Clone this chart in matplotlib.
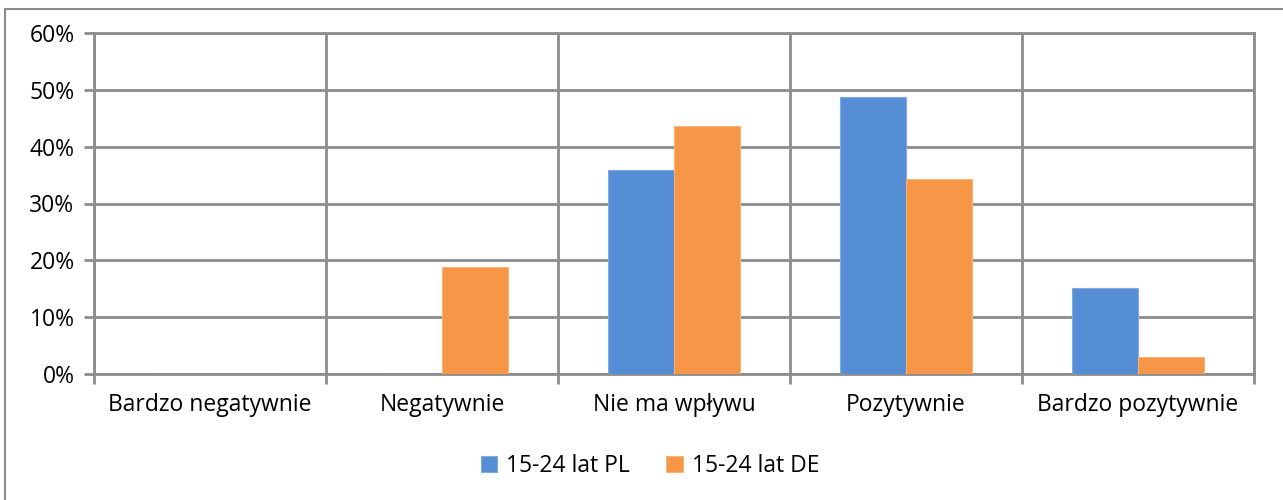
import matplotlib
matplotlib.use('Agg')
import matplotlib.pyplot as plt
from matplotlib.lines import Line2D
from matplotlib.ticker import FixedLocator, PercentFormatter
import numpy as np

categories = ['Bardzo negatywnie', 'Negatywnie', 'Nie ma wpływu', 'Pozytywnie', 'Bardzo pozytywnie']
pl = [0.0, 0.0, 35.9, 48.8, 15.1]
de = [0.0, 18.8, 43.7, 34.3, 3.0]
series = ['15-24 lat PL', '15-24 lat DE']

plt.rcParams['font.family'] = ['Open Sans', 'DejaVu Sans']
grid_c = '#8c8c8c'
fs = 16.5

fig = plt.figure(figsize=(12.83, 5.0), dpi=100)
ax = fig.add_axes([94/1283, 1-374/500, (1254-94)/1283, (374-33)/500])

x = np.arange(len(categories))
w = 0.285
ax.bar(x - w/2, pl, w, color='#558ed5', edgecolor='#7fa9e0', lw=0.8, label=series[0], zorder=3)
ax.bar(x + w/2, de, w, color='#f79646', edgecolor='#f9b27a', lw=0.8, label=series[1], zorder=3)

ax.set_xlim(-0.5, len(categories) - 0.5)
ax.set_ylim(0, 60)
ax.set_yticks(range(0, 61, 10))
ax.yaxis.set_major_formatter(PercentFormatter(decimals=0))
ax.set_xticks(x)
ax.set_xticklabels(categories)
ax.xaxis.set_minor_locator(FixedLocator(np.arange(-0.5, len(categories), 1.0)))
ax.tick_params(axis='x', which='major', length=0, pad=14, labelsize=fs)
ax.tick_params(axis='x', which='minor', length=7, color=grid_c, width=2)
ax.tick_params(axis='y', length=7, color=grid_c, width=2, pad=7, labelsize=fs)
ax.grid(axis='y', which='major', color=grid_c, lw=2, zorder=0)
ax.grid(axis='x', which='minor', color=grid_c, lw=2, zorder=0)
for s in ax.spines.values():
  s.set_color(grid_c)
  s.set_linewidth(2)

fig.legend(loc='center', bbox_to_anchor=(650/1283, 1-466/500), ncol=2, frameon=False,
           fontsize=fs, handlelength=0.7, handleheight=0.7, handletextpad=0.4, columnspacing=1.6)

fig.add_artist(Line2D([5/1283, 5/1283], [0, 1-9/500], color='#8a8a8a', lw=1.5))
fig.add_artist(Line2D([5/1283, 1], [1-9/500, 1-9/500], color='#8a8a8a', lw=1.5))

fig.savefig('out.png', dpi=100)
